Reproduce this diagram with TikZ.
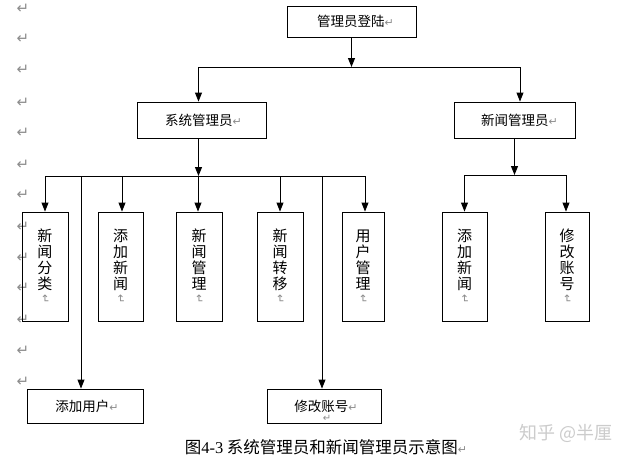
\documentclass[tikz,border=0pt]{standalone}
\usepackage{fontspec}
\usepackage{graphicx}
\setmainfont{Noto Sans CJK SC}
\newfontfamily\symf{DejaVu Sans}
\newfontfamily\latf{Liberation Serif}
\usetikzlibrary{arrows.meta}
\definecolor{markgray}{gray}{0.55}
\newcommand\retm{{\symf\fontsize{11}{11}\selectfont\color{markgray}↵}}
\newcommand\retv{\rotatebox[origin=c]{-90}{\retm}}
\newcommand\vch[1]{\hbox to 16pt{\hss\raisebox{0pt}[12.5pt][3.5pt]{#1}\hss}}
\newcommand\vtxt[4]{\vbox{\offinterlineskip\vch{#1}\vch{#2}\vch{#3}\vch{#4}\vskip2pt\hbox to 16pt{\hss\retv\hss}}}
\begin{document}
\begin{tikzpicture}[x=1pt,y=-1pt,
  box/.style={draw, line width=0.9pt, inner sep=0pt, font=\fontsize{13.5}{14}\selectfont},
  vbox/.style={draw, line width=0.9pt, inner sep=0pt, minimum height=109pt,
    font=\fontsize{15}{16}\selectfont},
  conn/.style={line width=0.9pt},
  arr/.style={conn, -{Triangle[length=9pt,width=7pt]}},
  pmark/.style={font=\symf\fontsize{15}{15}\selectfont, text=markgray, inner sep=0pt}
]
\fill[white] (0,0) rectangle (630,458);
\useasboundingbox (0,0) rectangle (630,458);

% paragraph marks in the left margin
\foreach \yy [count=\i] in {9,39,70,103,133,165,195,227,258,288,320,351,382}
  \node[pmark] (pm\i) at (23,\yy) {↵};

% boxes
\node[box, minimum width=129pt, minimum height=31pt] (top) at (351.5,21.5) {\hspace{8pt}管理员登陆\retm};
\node[box, minimum width=129pt, minimum height=36pt] (sys) at (201.5,120) {\hspace{4pt}系统管理员\retm};
\node[box, minimum width=121pt, minimum height=36pt] (news) at (514.5,120) {\hspace{10pt}新闻管理员\retm};

\node[vbox, minimum width=46pt] (vb1) at (45,266.5) {\vtxt{新}{闻}{分}{类}};
\node[vbox, minimum width=45pt] (vb2) at (120.5,266.5) {\vtxt{添}{加}{新}{闻}};
\node[vbox, minimum width=46pt] (vb3) at (199,266.5) {\vtxt{新}{闻}{管}{理}};
\node[vbox, minimum width=46pt] (vb4) at (280,266.5) {\vtxt{新}{闻}{转}{移}};
\node[vbox, minimum width=42pt] (vb5) at (363,266.5) {\vtxt{用}{户}{管}{理}};
\node[vbox, minimum width=45pt] (vb6) at (464.5,266.5) {\vtxt{添}{加}{新}{闻}};
\node[vbox, minimum width=44pt] (vb7) at (567,266.5) {\vtxt{修}{改}{账}{号}};

\node[box, minimum width=116pt, minimum height=34pt] (b1) at (85,406) {\hspace{4pt}添加用户\retm};
\node[box, minimum width=114pt, minimum height=34pt] (b2) at (324,406) {\hspace{4pt}修改账号\retm};
\node[pmark, font=\symf\fontsize{10}{10}\selectfont] (b2m) at (327,418) {↵};

% connectors: top level
\coordinate (j0) at (351.5,67);
\coordinate (jL) at (198.5,67);
\coordinate (jR) at (520,67);
\draw[arr] (top.south) -- (j0);
\draw[conn] (jL) -- (jR);
\draw[arr] (jL) -- (jL |- sys.north);
\draw[arr] (jR) -- (jR |- news.north);

% system administrator branch
\coordinate (s0) at (198.5,176);
\draw[arr] (s0 |- sys.south) -- (s0);
\draw[conn] (vb1.north |- s0) -- ([xshift=2pt]vb5.north |- s0);
\foreach \b/\dx in {vb1/0,vb2/1.5,vb3/-1,vb4/0,vb5/2}
  \draw[arr] ([xshift=\dx pt]\b.north |- s0) -- ([xshift=\dx pt]\b.north);
\draw[arr] ([xshift=-4pt]b1.north |- s0) -- ([xshift=-4pt]b1.north);
\draw[arr] ([xshift=-2pt]b2.north |- s0) -- ([xshift=-2pt]b2.north);

% news administrator branch
\coordinate (n0) at (514.5,175);
\draw[arr] (news.south) -- (n0);
\draw[conn] (vb6.north |- n0) -- ([xshift=-1pt]vb7.north |- n0);
\draw[arr] (vb6.north |- n0) -- (vb6.north);
\draw[arr] ([xshift=-1pt]vb7.north |- n0) -- ([xshift=-1pt]vb7.north);

% caption and watermark
\node[font=\fontsize{16.5}{17}\selectfont, inner sep=0pt] (cap) at (326,447) {图{\latf 4-3} 系统管理员和新闻管理员示意图\retm};
\node[font=\fontsize{18}{18}\selectfont, text=gray!40, inner sep=0pt] (wm) at (566,433) {知乎 @半厘};
\end{tikzpicture}
\end{document}
